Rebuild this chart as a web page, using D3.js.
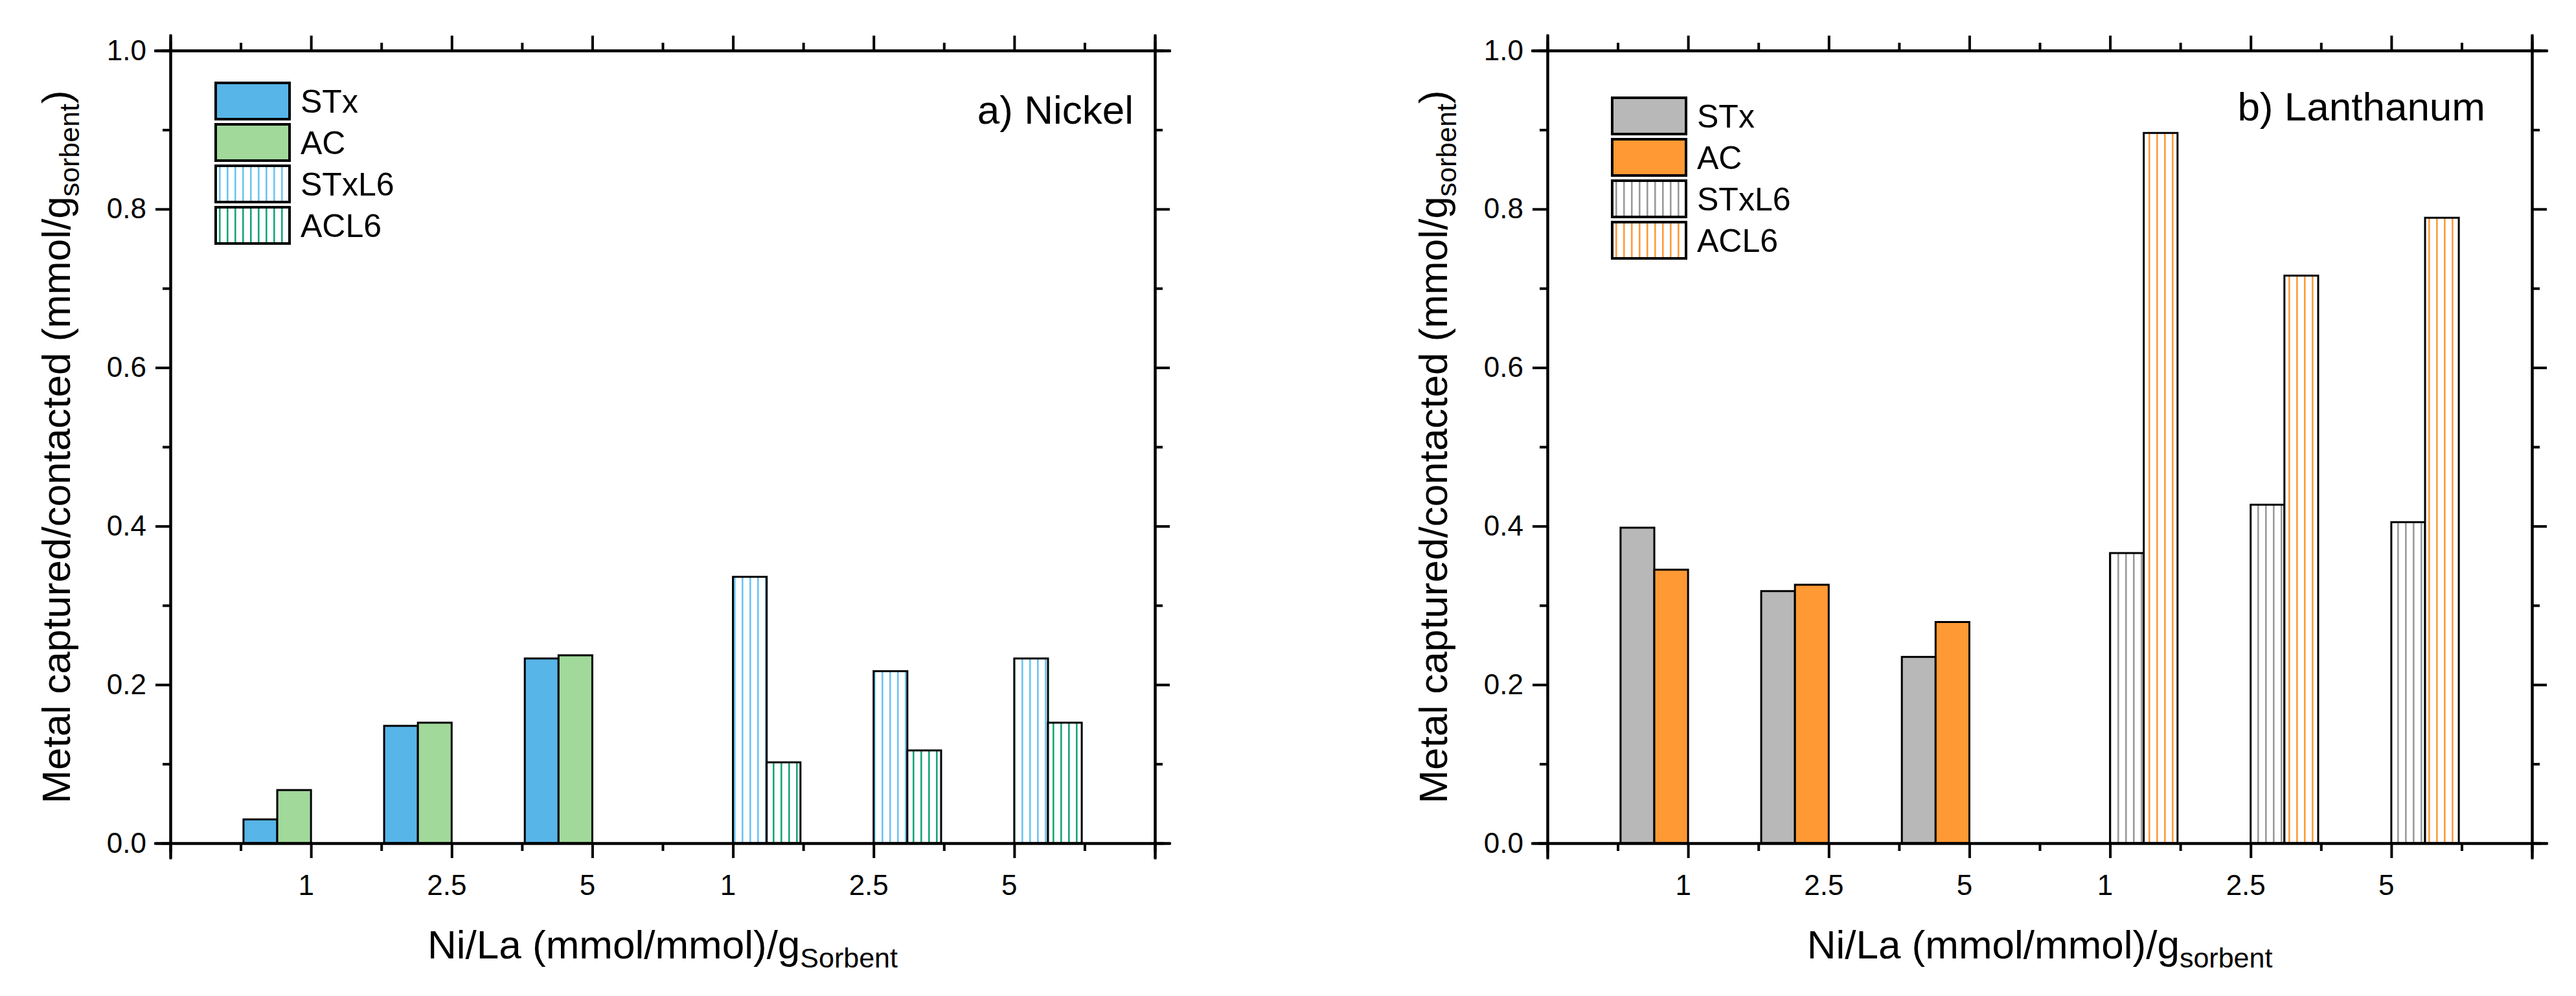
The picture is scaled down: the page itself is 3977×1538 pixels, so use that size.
<!doctype html>
<html>
<head>
<meta charset="utf-8">
<title>Metal captured</title>
<script src="https://cdn.jsdelivr.net/npm/d3@7"></script>
<style>
  body { margin: 0; background: #fff; }
  text { font-family: "Liberation Sans", Arial, sans-serif; fill: #000; }
</style>
</head>
<body>
<svg width="3977" height="1538"></svg>
<script>
// --- data -------------------------------------------------------------
var positions = [1, 2, 3, 4, 5, 6];
var xTickLabels = ["1", "2.5", "5", "1", "2.5", "5"];
var seriesNames = ["STx", "AC", "STxL6", "ACL6"];

// a) Nickel
var niSTx   = [0.030, 0.148, 0.233, null, null, null];
var niAC    = [0.067, 0.152, 0.237, null, null, null];
var niSTxL6 = [null, null, null, 0.336, 0.217, 0.233];
var niACL6  = [null, null, null, 0.102, 0.117, 0.152];

// b) Lanthanum
var laSTx   = [0.398, 0.318, 0.235, null, null, null];
var laAC    = [0.345, 0.326, 0.279, null, null, null];
var laSTxL6 = [null, null, null, 0.366, 0.427, 0.405];
var laACL6  = [null, null, null, 0.896, 0.716, 0.789];

var svg = d3.select("svg");
var defs = svg.append("defs");

// vertical line hatch fills
function hatch(id, color) {
    var p = defs.append("pattern")
        .attr("id", id)
        .attr("patternUnits", "userSpaceOnUse")
        .attr("width", 12).attr("height", 12);
    p.append("rect").attr("width", 12).attr("height", 12).attr("fill", "#fff");
    p.append("rect").attr("x", 5).attr("width", 2.6).attr("height", 12).attr("fill", color);
}
hatch("hNi1", "#6cc4f2");
hatch("hNi2", "#17a57a");
hatch("hLa1", "#9a9a9a");
hatch("hLa2", "#ff9b3a");

var panels = [
    {
        left: 263, right: 1783,
        values: [niSTx, niAC, niSTxL6, niACL6],
        fills: ["#58b5e8", "#a1d99b", "url(#hNi1)", "url(#hNi2)"],
        title: "a) Nickel", titleX: 1750, titleY: 191,
        legX: 333, legY: 128,
        sub: "Sorbent"
    },
    {
        left: 2389, right: 3909,
        values: [laSTx, laAC, laSTxL6, laACL6],
        fills: ["#b8b8b8", "#ff9933", "url(#hLa1)", "url(#hLa2)"],
        title: "b) Lanthanum", titleX: 3837, titleY: 186,
        legX: 2489, legY: 151,
        sub: "sorbent"
    }
];

var plotTop = 78, plotBottom = 1302;

panels.forEach(function(p) {
    var x = d3.scaleLinear().domain([0, 7]).range([p.left, p.right]);
    var y = d3.scaleLinear().domain([0, 1]).range([plotBottom, plotTop]);
    // offset of each series inside a group (in x units)
    var inner = d3.scaleBand().domain(seriesNames).range([-0.48, 0.48]);

    var g = svg.append("g");

    // bars
    seriesNames.forEach(function(s, si) {
        var vals = p.values[si].map(function(v, i) { return { x: positions[i], v: v }; })
            .filter(function(d) { return d.v != null; });
        g.selectAll(null).data(vals).enter().append("rect")
            .attr("x", function(d) { return x(d.x + inner(s)); })
            .attr("width", function(d) { return x(d.x + inner(s) + inner.bandwidth()) - x(d.x + inner(s)); })
            .attr("y", function(d) { return y(d.v); })
            .attr("height", function(d) { return y(0) - y(d.v); })
            .attr("fill", p.fills[si])
            .attr("stroke", "#000")
            .attr("stroke-width", 3);
    });

    // axes
    var majorY = d3.range(0, 1.01, 0.2), minorY = d3.range(0.1, 1, 0.2);
    var majorX = d3.range(0, 8), minorX = d3.range(0.5, 7, 1);

    function axisStyle(sel) {
        sel.selectAll("path.domain").attr("stroke-width", 4).attr("stroke", "#000");
        sel.selectAll(".tick line").attr("stroke-width", 4).attr("stroke", "#000");
        sel.selectAll(".tick text").attr("font-family", "Liberation Sans, Arial, sans-serif")
            .attr("font-size", 44).attr("fill", "#000");
    }

    g.append("g").attr("transform", "translate(" + p.left + ",0)")
        .call(d3.axisLeft(y).tickValues(majorY).tickSize(23).tickPadding(14).tickFormat(d3.format(".1f")))
        .call(axisStyle);
    g.append("g").attr("transform", "translate(" + p.left + ",0)")
        .call(d3.axisLeft(y).tickValues(minorY).tickSize(12).tickFormat(""))
        .call(axisStyle);
    g.append("g").attr("transform", "translate(" + p.right + ",0)")
        .call(d3.axisRight(y).tickValues(majorY).tickSize(23).tickFormat(""))
        .call(axisStyle);
    g.append("g").attr("transform", "translate(" + p.right + ",0)")
        .call(d3.axisRight(y).tickValues(minorY).tickSize(12).tickFormat(""))
        .call(axisStyle);

    var bx = g.append("g").attr("transform", "translate(0," + plotBottom + ")")
        .call(d3.axisBottom(x).tickValues(majorX).tickSize(23).tickPadding(26)
            .tickFormat(function(d) { return d >= 1 && d <= 6 ? xTickLabels[d - 1] : ""; }))
        .call(axisStyle);
    bx.selectAll(".tick text").attr("dx", -8);
    g.append("g").attr("transform", "translate(0," + plotBottom + ")")
        .call(d3.axisBottom(x).tickValues(minorX).tickSize(12).tickFormat(""))
        .call(axisStyle);
    g.append("g").attr("transform", "translate(0," + plotTop + ")")
        .call(d3.axisTop(x).tickValues(majorX).tickSize(23).tickFormat(""))
        .call(axisStyle);
    g.append("g").attr("transform", "translate(0," + plotTop + ")")
        .call(d3.axisTop(x).tickValues(minorX).tickSize(12).tickFormat(""))
        .call(axisStyle);
    g.selectAll("path.domain").attr("stroke-linecap", "square");

    // panel title
    g.append("text").attr("x", p.titleX).attr("y", p.titleY)
        .attr("text-anchor", "end").attr("font-size", 62).text(p.title);

    // axis titles
    var yt = g.append("text")
        .attr("transform", "translate(" + (p.left - 155) + "," + ((plotTop + plotBottom) / 2) + ") rotate(-90)")
        .attr("text-anchor", "middle").attr("font-size", 62);
    yt.append("tspan").text("Metal captured/contacted (mmol/g");
    yt.append("tspan").attr("font-size", 43).attr("dy", 14).text("sorbent");
    yt.append("tspan").attr("dy", -14).text(")");

    var xt = g.append("text")
        .attr("x", (p.left + p.right) / 2).attr("y", 1480)
        .attr("text-anchor", "middle").attr("font-size", 62);
    xt.append("tspan").text("Ni/La (mmol/mmol)/g");
    xt.append("tspan").attr("font-size", 43).attr("dy", 14).text(p.sub);

    // legend
    var leg = g.append("g").attr("transform", "translate(" + p.legX + "," + p.legY + ")");
    seriesNames.forEach(function(s, i) {
        var row = leg.append("g").attr("transform", "translate(0," + (i * 64) + ")");
        row.append("rect").attr("width", 114).attr("height", 56)
            .attr("fill", p.fills[i]).attr("stroke", "#000").attr("stroke-width", 4);
        row.append("text").attr("x", 131).attr("y", 46).attr("font-size", 50).text(s);
    });
});
</script>
</body>
</html>
